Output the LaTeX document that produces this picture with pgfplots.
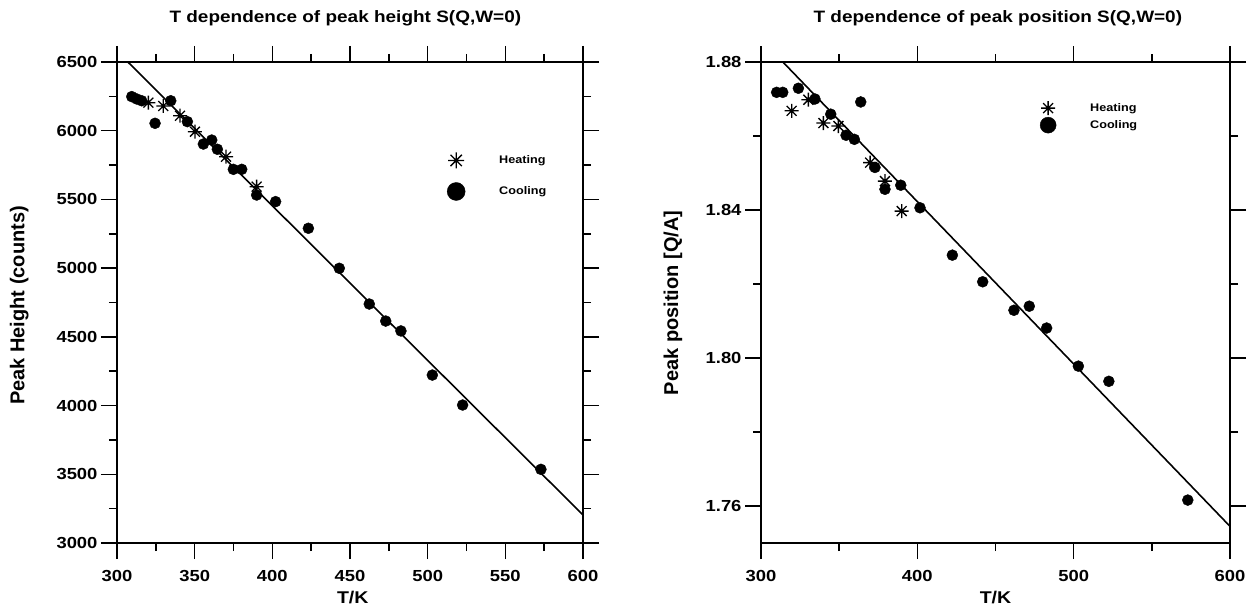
\documentclass[border=0pt]{standalone}
\usepackage{fontspec}
\setmainfont{Liberation Sans}[FakeStretch=1.15]
\newfontfamily\uprightlab{Liberation Sans}
\usepackage{pgfplots}
\usepackage{pgfplotstable}
\pgfplotsset{compat=1.18}

% eight-armed asterisk used for the heating runs
\pgfdeclareplotmark{star8}{%
  \pgfpathmoveto{\pgfqpoint{-\pgfplotmarksize}{0pt}}%
  \pgfpathlineto{\pgfqpoint{\pgfplotmarksize}{0pt}}%
  \pgfpathmoveto{\pgfqpoint{0pt}{-\pgfplotmarksize}}%
  \pgfpathlineto{\pgfqpoint{0pt}{\pgfplotmarksize}}%
  \pgfpathmoveto{\pgfqpoint{-0.707\pgfplotmarksize}{-0.707\pgfplotmarksize}}%
  \pgfpathlineto{\pgfqpoint{0.707\pgfplotmarksize}{0.707\pgfplotmarksize}}%
  \pgfpathmoveto{\pgfqpoint{-0.707\pgfplotmarksize}{0.707\pgfplotmarksize}}%
  \pgfpathlineto{\pgfqpoint{0.707\pgfplotmarksize}{-0.707\pgfplotmarksize}}%
  \pgfusepathqstroke}

% peak height S(Q,W=0) versus temperature
\pgfplotstableread{
T H
309.5 6248
312.7 6231
315.9 6218
324.5 6054
334.6 6218
345.3 6066
355.6 5903
361.0 5932
364.6 5865
374.9 5719
380.3 5719
389.9 5532
402.1 5484
423.2 5290
443.1 4999
462.4 4739
473.0 4615
482.8 4543
503.0 4222
522.5 4004
572.9 3536
}\heightcool
\pgfplotstableread{
T H
320.2 6204
329.8 6180
340.6 6109
350.2 5993
370.2 5811
389.9 5593
}\heightheat

% peak position versus temperature
\pgfplotstableread{
T P
310.0 1.8718
313.9 1.8718
323.9 1.8729
334.5 1.8700
344.6 1.8659
354.4 1.8602
359.7 1.8591
363.8 1.8692
372.9 1.8515
379.3 1.8456
389.4 1.8467
401.7 1.8406
422.4 1.8278
441.8 1.8206
461.8 1.8129
471.6 1.8140
482.7 1.8081
503.0 1.7978
522.5 1.7937
573.0 1.7616
}\poscool
\pgfplotstableread{
T P
319.6 1.8668
330.3 1.8698
339.9 1.8635
349.5 1.8627
369.8 1.8528
379.3 1.8478
390.0 1.8397
}\posheat

\pgfplotsset{
  panel/.style={
    scale only axis,
    axis line style={line width=1.8pt},
    every tick/.style={line width=1.5pt, black},
    tick align=outside,
    major tick length=16pt,
    minor tick length=8pt,
    ticklabel style={font=\fontsize{16}{16}\selectfont\bfseries},
    xticklabel style={yshift=-8pt},
    /pgf/number format/assume math mode=true,
    /pgf/number format/1000 sep={},
    title style={font=\fontsize{16.5}{18}\selectfont\bfseries, anchor=center},
    xlabel style={font=\fontsize{17}{17}\selectfont\bfseries, anchor=center},
    ylabel style={font=\uprightlab\fontsize{20}{20}\selectfont\bfseries, anchor=center, rotate=0},
    legend style={draw=none, fill=none, font=\fontsize{11}{11}\selectfont\bfseries,
      anchor=west, column sep=32pt},
    legend cell align=left,
    legend image code/.code={\draw[#1] plot coordinates {(0pt,0pt)};},
    cool/.style={only marks, mark=*, mark size=5.5pt, black},
    heat/.style={only marks, mark=star8, mark size=7pt, line width=1.3pt, black},
    fit/.style={no marks, line width=1.6pt, black},
  }
}

\begin{document}
\begin{tikzpicture}
\useasboundingbox (0pt,0pt) rectangle (1249pt,-607pt);

\begin{axis}[panel,
  at={(117pt,-543pt)}, anchor=south west,
  width=466pt, height=481pt,
  xmin=300, xmax=600, ymin=3000, ymax=6500,
  xtick={300,350,...,600}, minor x tick num=1,
  ytick={3000,3500,...,6500}, minor y tick num=1,
  title={T dependence of peak height S(Q,W=0)},
  title style={at={(axis description cs:0.49,1.078)}},
  xlabel={T/K},
  xlabel style={at={(axis description cs:0.506,-0.113)}},
  ylabel={Peak Height (counts)},
  ylabel style={at={(axis description cs:-0.21,0.494)}},
  legend style={at={(axis cs:510.5,5667)}, row sep=14pt},
]
\addlegendimage{only marks, mark=star8, mark size=8pt, line width=1.3pt, black}
\addlegendentry{Heating}
\addlegendimage{only marks, mark=*, mark size=9pt, black}
\addlegendentry{Cooling}
\addplot[fit, forget plot] coordinates {(307,6500) (600,3204)};
\addplot[cool, forget plot] table[x=T, y=H] {\heightcool};
\addplot[heat, forget plot] table[x=T, y=H] {\heightheat};
\end{axis}

\begin{axis}[panel,
  at={(761pt,-543pt)}, anchor=south west,
  width=469pt, height=481pt,
  xmin=300, xmax=600, ymin=1.75, ymax=1.88,
  xtick={300,400,500,600}, minor x tick num=1,
  ytick={1.76,1.80,1.84,1.88}, minor y tick num=1,
  yticklabel style={/pgf/number format/.cd, fixed, fixed zerofill, precision=2},
  title={T dependence of peak position S(Q,W=0)},
  title style={at={(axis description cs:0.505,1.078)}},
  xlabel={T/K},
  xlabel style={at={(axis description cs:0.5,-0.113)}},
  ylabel={Peak position [Q/A]},
  ylabel style={at={(axis description cs:-0.188,0.499)}},
  legend style={at={(axis cs:476.5,1.8651)}, row sep=2pt},
]
\addlegendimage{only marks, mark=star8, mark size=7pt, line width=1.3pt, black}
\addlegendentry{Heating}
\addlegendimage{only marks, mark=*, mark size=8pt, black}
\addlegendentry{Cooling}
\addplot[fit, forget plot] coordinates {(314,1.88) (600,1.7545)};
\addplot[cool, forget plot] table[x=T, y=P] {\poscool};
\addplot[heat, forget plot] table[x=T, y=P] {\posheat};
\end{axis}
\end{tikzpicture}
\end{document}
